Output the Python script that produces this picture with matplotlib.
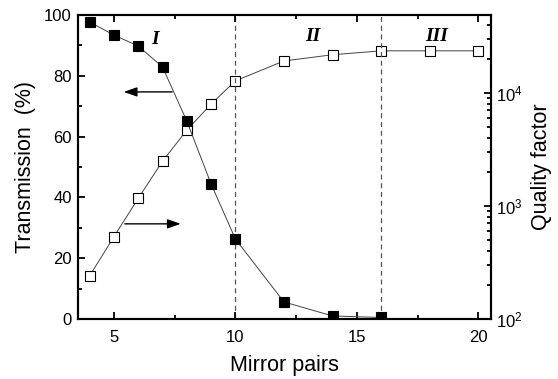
import matplotlib
matplotlib.use("Agg")
import matplotlib.pyplot as plt
from matplotlib.ticker import MultipleLocator, LogLocator, FixedLocator, NullFormatter

plt.rcParams['font.family'] = ['Liberation Sans', 'DejaVu Sans']
plt.rcParams['mathtext.fontset'] = 'custom'
plt.rcParams['mathtext.rm'] = 'Liberation Sans'

mirror_pairs = [4, 5, 6, 7, 8, 9, 10, 12, 14, 16]
transmission = [97.7, 93.4, 89.8, 82.9, 65.1, 44.4, 26.3, 5.6, 1.0, 0.5]

q_pairs = [4, 5, 6, 7, 8, 9, 10, 12, 14, 16, 18, 20]
quality = [241, 535, 1167, 2490, 4690, 7980, 12800, 19200, 21800, 23600, 23600, 23600]

region_bounds = [10, 16]
region_labels = ["I", "II", "III"]
region_label_x = [6.7, 13.2, 18.3]

fig = plt.figure(figsize=(5.58, 3.79), dpi=100)
ax = fig.add_axes([77.5/558, 60/379, 413/558, 304/379])
ax2 = ax.twinx()

ax.set_zorder(2)
ax.patch.set_visible(False)

line_color = '#444444'
ax.plot(mirror_pairs, transmission, '-', color=line_color, lw=0.7, zorder=2)
ax.plot(mirror_pairs, transmission, 's', color='black', ms=6.8, mec='black', mew=0.8, zorder=3)

ax2.plot(q_pairs, quality, '-', color=line_color, lw=0.7, zorder=2)
ax2.plot(q_pairs, quality, 's', mfc='white', mec='black', ms=6.8, mew=0.8, zorder=3)

ax.set_xlim(3.5, 20.5)
ax.set_ylim(0, 100)
ax2.set_yscale('log')
ax2.set_ylim(100, 10**4.69)

for xb in region_bounds:
    ax.axvline(xb, color='#555555', ls=(0, (4, 3)), lw=0.9, zorder=1)

ax.xaxis.set_major_locator(MultipleLocator(5))
ax.xaxis.set_minor_locator(MultipleLocator(2.5))
ax.yaxis.set_major_locator(MultipleLocator(20))
ax.yaxis.set_minor_locator(MultipleLocator(10))
ax2.yaxis.set_major_locator(FixedLocator([1e2, 1e3, 1e4]))
ax2.yaxis.set_minor_locator(LogLocator(base=10, subs=range(2, 10), numticks=20))
ax2.yaxis.set_minor_formatter(NullFormatter())
ax2.set_yticklabels([r'$\mathregular{10^{2}}$', r'$\mathregular{10^{3}}$', r'$\mathregular{10^{4}}$'])

ax.tick_params(axis='x', which='both', direction='in', top=True, bottom=True, labelsize=12, width=1.3, pad=8)
ax.tick_params(axis='x', which='major', length=5)
ax.tick_params(axis='x', which='minor', length=3)
ax.tick_params(axis='y', which='both', direction='in', left=True, right=False, labelsize=12, width=1.3, pad=4)
ax.tick_params(axis='y', which='major', length=5)
ax.tick_params(axis='y', which='minor', length=3)
ax2.tick_params(axis='y', which='both', direction='in', right=True, labelsize=12, width=1.3, pad=4)
ax2.tick_params(axis='y', which='major', length=5)
ax2.tick_params(axis='y', which='minor', length=3)

for a in (ax, ax2):
    for s in a.spines.values():
        s.set_linewidth(1.5)

ax.set_xlabel('Mirror pairs', fontsize=15.5, labelpad=7)
ax.set_ylabel('Transmission  (%)', fontsize=15.5, labelpad=6)
ax2.set_ylabel('Quality factor', fontsize=15.5, labelpad=6)

# arrows
ax.annotate('', xy=(5.4, 74.7), xytext=(7.4, 74.7),
            arrowprops=dict(arrowstyle='-|>,head_length=0.8,head_width=0.28', color='black', lw=1.0, shrinkA=0, shrinkB=0))
ax.annotate('', xy=(7.75, 31.3), xytext=(5.45, 31.3),
            arrowprops=dict(arrowstyle='-|>,head_length=0.8,head_width=0.28', color='black', lw=1.0, shrinkA=0, shrinkB=0))

label_font = dict(family=['Liberation Serif', 'DejaVu Serif'], fontweight='bold', fontstyle='italic', fontsize=14)
ax.text(region_label_x[0], 91.8, region_labels[0], ha='center', va='center', **label_font)
ax.text(region_label_x[1], 92.8, region_labels[1], ha='center', va='center', **label_font)
ax.text(region_label_x[2], 92.8, region_labels[2], ha='center', va='center', **label_font)

fig.savefig('out.png', dpi=100)
